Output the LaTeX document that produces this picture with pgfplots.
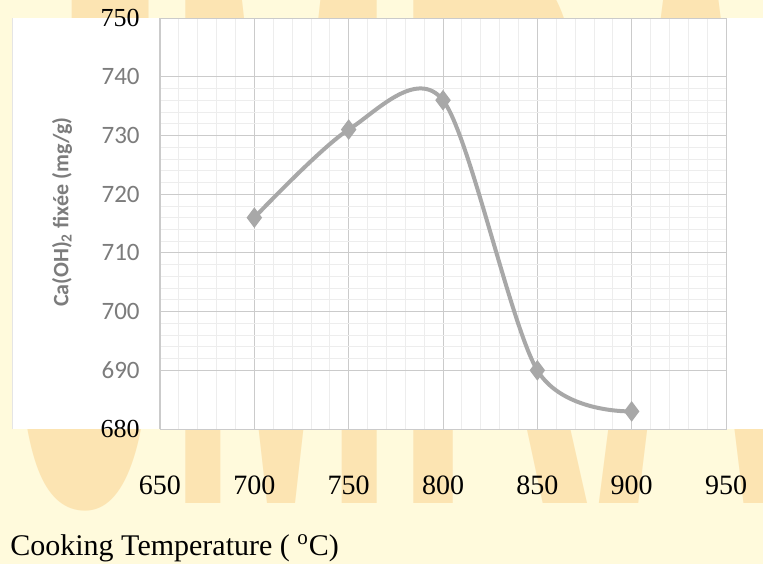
\documentclass[border=0pt]{standalone}
\usepackage{fontspec}
\setmainfont{Liberation Serif}
\newfontfamily\calibri{Carlito}
\newfontfamily\wmark{Liberation Sans}
\usepackage{pgfplots}
\pgfplotsset{compat=1.18}
\definecolor{cream}{HTML}{FFFADC}
\definecolor{wmorange}{HTML}{FCE4B2}
\definecolor{linegray}{HTML}{A8A8A8}
\definecolor{labgray}{HTML}{7C7C7C}
\definecolor{gridmaj}{HTML}{CBCBCB}
\definecolor{gridmin}{HTML}{EDEDED}

\begin{document}
\begin{tikzpicture}
% page background and watermark (1 px of the scan = 0.5pt)
\path[use as bounding box, fill=cream] (-80pt,-67.5pt) rectangle (301.5pt,214.5pt);
\node[anchor=base west, inner sep=0pt, text=wmorange, xscale=0.35,
      font=\wmark\bfseries\fontsize{391pt}{391pt}\selectfont] at (-72.5pt,-37pt) {JMRA};
\fill[white] (-74pt,0pt) rectangle (301.5pt,205.5pt);
\draw[gray!20] (-74pt,0pt) -- (-74pt,205.5pt);

\begin{axis}[
  scale only axis, width=283pt, height=205.5pt,
  at={(0pt,0pt)}, anchor=south west,
  xmin=650, xmax=950, ymin=680, ymax=750,
  xtick={650,700,...,950}, ytick={690,700,...,740},
  extra y ticks={680,750},
  extra y tick style={grid=none,
    yticklabel style={font=\rmfamily\fontsize{13}{13}\selectfont, text=black}},
  minor x tick num=4, minor y tick num=4,
  grid=both,
  major grid style={gridmaj, line width=0.5pt},
  minor grid style={gridmin, line width=0.4pt},
  axis line style={gridmaj}, tick style={draw=none},
  /pgf/number format/assume math mode=true,
  xticklabel style={anchor=center, yshift=-28pt, font=\fontsize{14}{14}\selectfont},
  yticklabel style={anchor=east, inner sep=0pt, xshift=-10pt,
    font=\calibri\fontsize{12.5}{12.5}\selectfont, text=labgray},
  ylabel={Ca(OH)\textsubscript{2} fixée (mg/g)},
  ylabel style={at={(axis description cs:-0.173,0.528)}, anchor=center,
    font=\calibri\bfseries\fontsize{11}{11}\selectfont, text=labgray},
  xlabel={Cooking Temperature ( \textsuperscript{o}C)},
  xlabel style={at={(axis description cs:0,0)}, anchor=west, inner sep=0pt,
    xshift=-75pt, yshift=-59.5pt, font=\fontsize{15}{15}\selectfont},
]
\addplot[linegray, line width=2pt, smooth, mark=diamond*, mark size=3.5pt,
  mark options={fill=linegray, draw=linegray}]
  coordinates {(700,716) (750,731) (800,736) (850,690) (900,683)};
\end{axis}
\end{tikzpicture}
\end{document}
